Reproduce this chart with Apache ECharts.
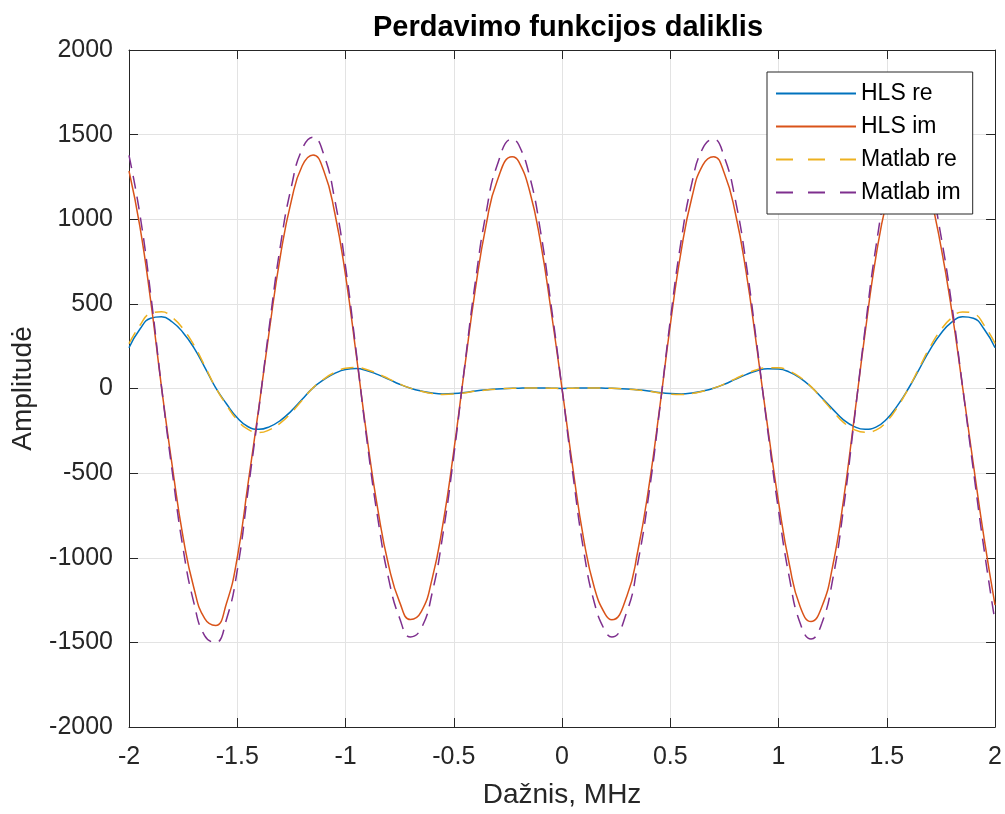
<!DOCTYPE html>
<html lang="lt">
<head>
    <meta charset="UTF-8">
    <title>Perdavimo funkcijos daliklis</title>
    <style>
        html, body { margin: 0; padding: 0; background: #fff; }
        #main { width: 1005px; height: 814px; }
    </style>
</head>
<body>
    <div id="main"></div>
    <script src="https://cdn.jsdelivr.net/npm/echarts@6/dist/echarts.min.js"></script>
    <script>
        // dažnis, MHz (kas 0.05, prie +-0.23 smailės)
        var freq = [-2, -1.95, -1.9, -1.85, -1.8, -1.75, -1.7, -1.65, -1.6, -1.55, -1.5, -1.45, -1.4, -1.35, -1.3, -1.25, -1.2, -1.15, -1.1, -1.05,
            -1, -0.95, -0.9, -0.85, -0.8, -0.75, -0.7, -0.65, -0.6, -0.55, -0.5, -0.45, -0.4, -0.35, -0.3, -0.23, -0.2, -0.15, -0.1, -0.05,
            0, 0.05, 0.1, 0.15, 0.2, 0.23, 0.3, 0.35, 0.4, 0.45, 0.5, 0.55, 0.6, 0.65, 0.7, 0.75, 0.8, 0.85, 0.9, 0.95,
            1, 1.05, 1.1, 1.15, 1.2, 1.25, 1.3, 1.35, 1.4, 1.45, 1.5, 1.55, 1.6, 1.65, 1.7, 1.75, 1.8, 1.85, 1.9, 1.95, 2];

        var hlsRe = [241, 350, 415, 424, 393, 330, 240, 125, 5, -90, -173, -226, -241, -225, -188, -132, -64, 4, 52, 89,
            112, 118, 105, 82, 54, 25, 2, -15, -27, -32, -30, -24, -15, -8, -3, 1, 2, 3, 3, 2,
            0, 2, 3, 3, 2, 1, -3, -8, -15, -24, -30, -32, -27, -15, 2, 25, 54, 82, 105, 117,
            115, 97, 62, 10, -55, -122, -185, -225, -241, -228, -180, -100, 0, 115, 230, 325, 392, 424, 415, 350, 241];

        var hlsIm = [1285, 960, 520, 10, -460, -880, -1180, -1360, -1400, -1270, -1000, -560, -110, 360, 790, 1110, 1316, 1380, 1285, 1040,
            670, 195, -295, -720, -1050, -1262, -1365, -1318, -1125, -800, -370, 120, 590, 970, 1225, 1369, 1340, 1168, 870, 455,
            0, -470, -890, -1180, -1335, -1367, -1225, -960, -590, -125, 375, 810, 1130, 1320, 1370, 1270, 1040, 690, 240, -230,
            -670, -1040, -1290, -1377, -1290, -1050, -660, -170, 330, 780, 1110, 1320, 1400, 1340, 1140, 840, 460, 10, -450, -890, -1280];

        var matlabRe = [265, 372, 444, 453, 420, 352, 256, 133, 6, -97, -186, -242, -260, -243, -203, -142, -69, 4, 56, 95,
            119, 124, 111, 87, 57, 27, 2, -16, -29, -35, -33, -26, -16, -9, -3, 1, 2, 3, 3, 2,
            0, 2, 3, 3, 2, 1, -3, -9, -16, -26, -33, -35, -29, -16, 2, 27, 57, 87, 111, 123,
            122, 103, 66, 11, -59, -132, -200, -243, -259, -246, -194, -108, 0, 123, 246, 347, 418, 452, 443, 373, 266];

        var matlabIm = [1377, 1032, 559, 11, -494, -946, -1268, -1462, -1500, -1365, -1075, -602, -118, 387, 849, 1193, 1415, 1485, 1381, 1118,
            720, 210, -317, -774, -1129, -1357, -1468, -1417, -1209, -860, -398, 129, 634, 1043, 1317, 1474, 1440, 1256, 935, 489,
            0, -505, -957, -1269, -1435, -1468, -1317, -1032, -634, -134, 403, 871, 1215, 1419, 1473, 1365, 1118, 742, 258, -247,
            -720, -1118, -1387, -1480, -1387, -1129, -710, -183, 355, 839, 1193, 1419, 1505, 1441, 1226, 903, 495, 11, -484, -957, -1378];

        var seriesNames = ['HLS re', 'HLS im', 'Matlab re', 'Matlab im'];
        var seriesColors = ['#0072BD', '#D95319', '#EDB120', '#7E2F8E'];
        var seriesDashed = [false, false, true, true];

        function pairs(vals) {
            return freq.map(function (f, i) { return [f, vals[i]]; });
        }

        var font = "'Liberation Sans', Arial, Helvetica, sans-serif";
        var axisColor = '#262626';
        var gridColor = '#e3e3e3';

        var chart = echarts.init(document.getElementById('main'), null, { renderer: 'canvas' });

        function lineSeries(idx, vals) {
            var color = seriesColors[idx];
            return {
                name: seriesNames[idx],
                type: 'line',
                data: pairs(vals),
                smooth: 0.5,
                symbol: 'none',
                showSymbol: false,
                animation: false,
                lineStyle: { color: color, width: 1.5, type: seriesDashed[idx] ? [13, 8] : 'solid' },
                itemStyle: { color: color }
            };
        }

        // legendoje brūkšniai ilgesni
        var legendData = seriesNames.map(function (n, i) {
            var item = { name: n };
            if (seriesDashed[i]) {
                item.lineStyle = { type: [17, 15] };
            }
            return item;
        });

        chart.setOption({
            backgroundColor: '#fff',
            animation: false,
            title: {
                text: 'Perdavimo funkcijos daliklis',
                left: 563,
                textAlign: 'center',
                top: 8,
                textStyle: { fontFamily: font, fontSize: 29, fontWeight: 'bold', color: '#000' }
            },
            grid: { left: 129, right: 8, top: 50, bottom: 79, containLabel: false },
            legend: {
                data: legendData,
                orient: 'vertical',
                left: 767,
                top: 72,
                padding: [10, 12, 10, 8],
                itemWidth: 80,
                itemHeight: 14,
                itemGap: 10,
                backgroundColor: '#fff',
                borderColor: axisColor,
                borderWidth: 1,
                itemStyle: { opacity: 0 },
                textStyle: { fontFamily: font, fontSize: 23, color: '#000' }
            },
            xAxis: [{
                type: 'value',
                min: -2,
                max: 2,
                interval: 0.5,
                position: 'bottom',
                name: 'Dažnis, MHz',
                nameLocation: 'middle',
                nameGap: 54,
                nameTextStyle: { fontFamily: font, fontSize: 28, color: axisColor },
                axisLine: { show: true, onZero: false, lineStyle: { color: axisColor, width: 1 } },
                axisTick: { show: true, inside: true, length: 9, lineStyle: { color: axisColor } },
                axisLabel: {
                    fontFamily: font, fontSize: 25, color: axisColor, margin: 18,
                    formatter: function (v) { return String(v); }
                },
                splitLine: { show: true, lineStyle: { color: gridColor, width: 1 } }
            }, {
                type: 'value',
                min: -2,
                max: 2,
                interval: 0.5,
                position: 'top',
                axisLine: { show: true, onZero: false, lineStyle: { color: axisColor, width: 1 } },
                axisTick: { show: true, inside: true, length: 9, lineStyle: { color: axisColor } },
                axisLabel: { show: false },
                splitLine: { show: false }
            }],
            yAxis: [{
                type: 'value',
                min: -2000,
                max: 2000,
                interval: 500,
                position: 'left',
                name: 'Amplitudė',
                nameLocation: 'middle',
                nameGap: 92,
                nameTextStyle: { fontFamily: font, fontSize: 28, color: axisColor },
                axisLine: { show: true, onZero: false, lineStyle: { color: axisColor, width: 1 } },
                axisTick: { show: true, inside: true, length: 9, lineStyle: { color: axisColor } },
                axisLabel: {
                    fontFamily: font, fontSize: 25, color: axisColor, margin: 16,
                    formatter: function (v) { return String(v); }
                },
                splitLine: { show: true, lineStyle: { color: gridColor, width: 1 } }
            }, {
                type: 'value',
                min: -2000,
                max: 2000,
                interval: 500,
                position: 'right',
                axisLine: { show: true, onZero: false, lineStyle: { color: axisColor, width: 1 } },
                axisTick: { show: true, inside: true, length: 9, lineStyle: { color: axisColor } },
                axisLabel: { show: false },
                splitLine: { show: false }
            }],
            series: [
                lineSeries(0, hlsRe),
                lineSeries(1, hlsIm),
                lineSeries(2, matlabRe),
                lineSeries(3, matlabIm)
            ]
        });
    </script>
</body>
</html>
